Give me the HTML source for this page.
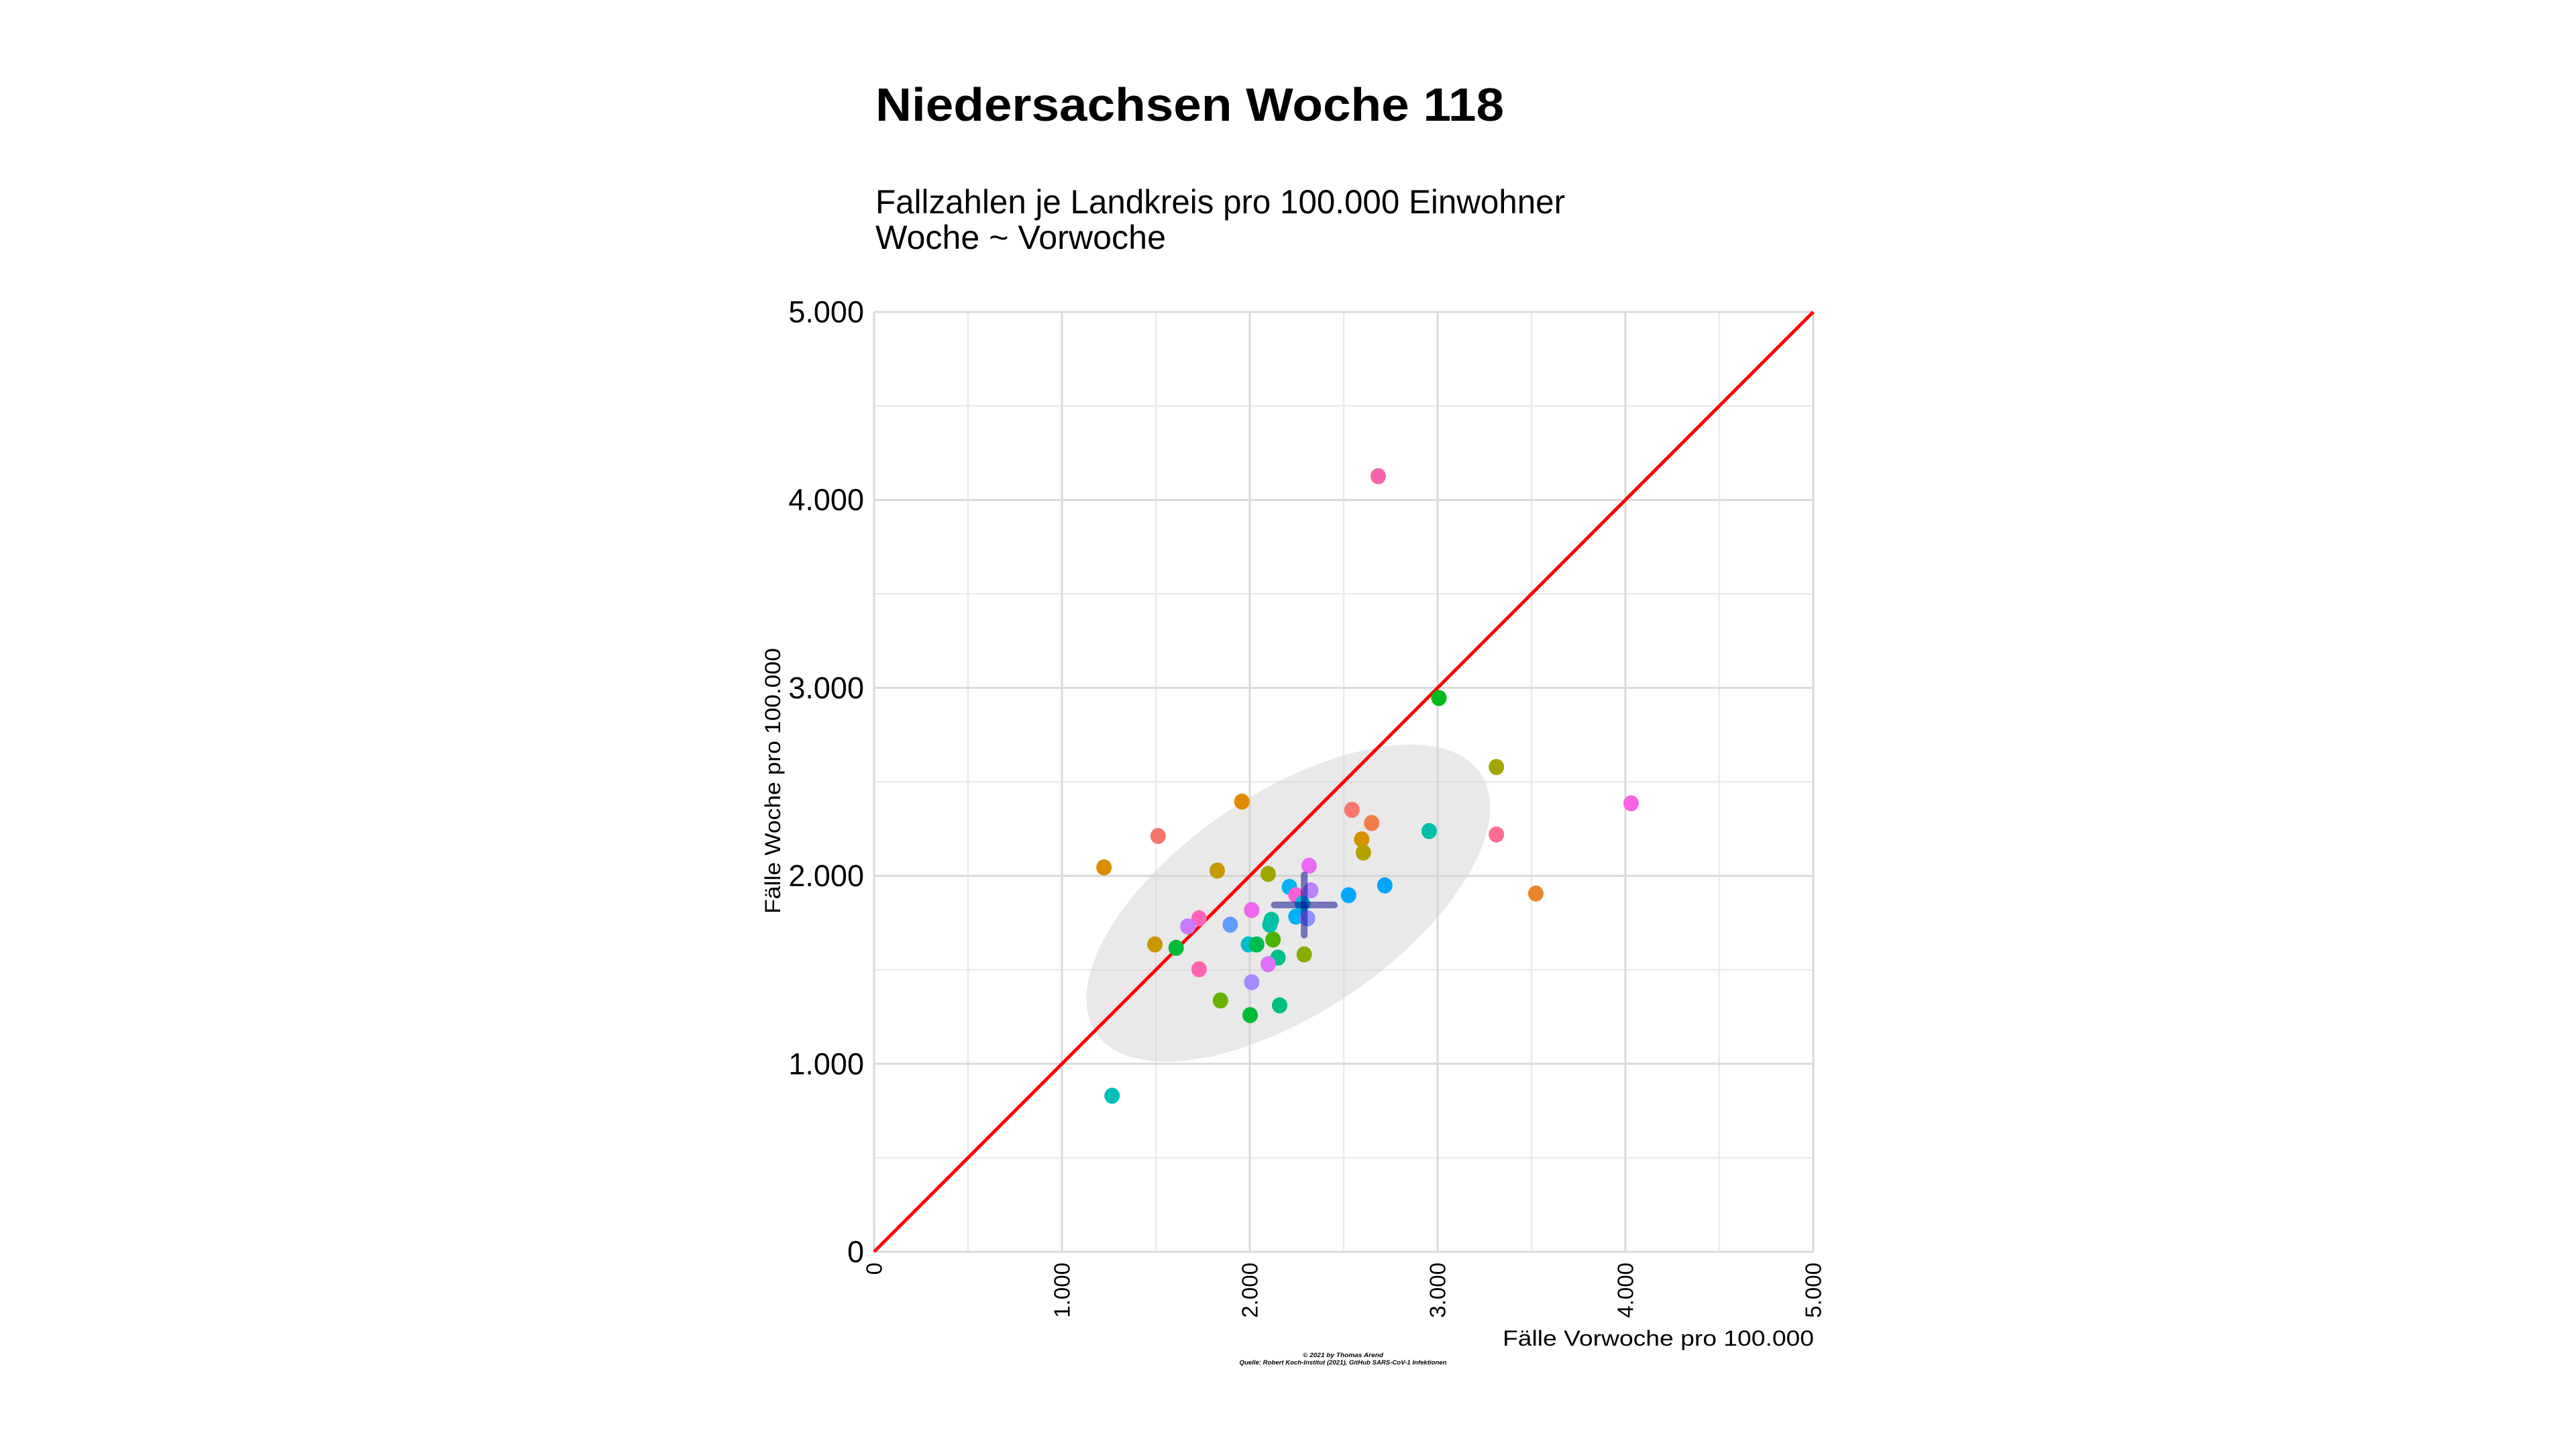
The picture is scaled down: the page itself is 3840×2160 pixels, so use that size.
<!DOCTYPE html>
<html><head><meta charset="utf-8"><style>
html,body{margin:0;padding:0;background:#fff;}
svg{display:block;font-family:"Liberation Sans",sans-serif;}
</style></head><body>
<svg id="chart" width="3840" height="2160" viewBox="0 0 3840 2160" xmlns="http://www.w3.org/2000/svg">
<text x="1305" y="180" font-size="70" font-weight="bold" textLength="937" lengthAdjust="spacingAndGlyphs">Niedersachsen Woche 118</text>
<text x="1305" y="318" font-size="50" textLength="1028" lengthAdjust="spacingAndGlyphs">Fallzahlen je Landkreis pro 100.000 Einwohner</text>
<text x="1305" y="371" font-size="50" textLength="433" lengthAdjust="spacingAndGlyphs">Woche ~ Vorwoche</text>
<g id="grid"></g>
<g id="ell"></g>
<g id="diag"></g>
<g id="pts"></g>
<g id="mean"></g>
<g id="axes"></g>
<text x="1152" y="1164" font-size="32" text-anchor="middle" transform="rotate(-90 1152 1164)" dominant-baseline="central" textLength="396" lengthAdjust="spacingAndGlyphs">Fälle Woche pro 100.000</text>
<text x="2704" y="2006" font-size="32" text-anchor="end" textLength="464" lengthAdjust="spacingAndGlyphs">Fälle Vorwoche pro 100.000</text>
<text x="2002" y="2023" font-size="9" font-style="italic" font-weight="bold" text-anchor="middle" textLength="120" lengthAdjust="spacingAndGlyphs">© 2021 by Thomas Arend</text>
<text x="2002" y="2034" font-size="9" font-style="italic" font-weight="bold" text-anchor="middle" textLength="309" lengthAdjust="spacingAndGlyphs">Quelle: Robert Koch-Institut (2021), GitHub SARS-CoV-1 Infektionen</text>
</svg>
<script>
const xVals=[2684,3007,3313,4030,3523,3313,2955,2544,2649,2596,2605,2719,2526,2316,2325,2211,2246,2281,2246,2308,1958,1512,1827,2098,2010,1896,1730,1670,2115,2107,2124,1993,2037,1495,1608,2150,2290,2098,1730,2010,1844,2159,2002,1267,1224];
const yVals=[4126,2946,2579,2386,1906,2220,2238,2351,2281,2194,2124,1949,1897,2054,1923,1941,1897,1853,1783,1774,2395,2212,2028,2010,1818,1740,1774,1731,1766,1740,1661,1635,1635,1635,1617,1565,1582,1530,1503,1434,1337,1311,1259,830,2045];
const colors=["#f564a9","#00b81f","#a3a500","#f763e0","#e9842c","#ff6c91","#00bfa9","#f8766d","#ef7f49","#d59100","#b4a000","#00a5ff","#00a9ff","#e76bf3","#b983ff","#00b4ef","#fd61d1","#00bcd8","#00b0f6","#8f91ff","#e18a00","#f8766d","#c49a00","#9da700","#ed68ed","#619cff","#ff62bc","#c77cff","#00bf9a","#00c1aa","#4cb400","#00bdd0","#00bb4e","#c99800","#00ba38","#00c08b","#86ac00","#dc71fa","#ff65ae","#a58aff","#6bb100","#00be7e","#00ba38","#00c0b8","#db8e00"];
const ticks=[0,1000,2000,3000,4000,5000];
const tickLabels=["0","1.000","2.000","3.000","4.000","5.000"];
const minorTicks=[500,1500,2500,3500,4500];
const meanX=2290, meanY=1845, meanSdX=160, meanSdY=160;
const ellCx=2205, ellCy=1855, ellA=1235, ellB=585, ellAngle=34;
const X0=1303,X1=2703,Y0=1866,Y1=465;
const sx=v=>X0+(X1-X0)*v/5000, sy=v=>Y0-(Y0-Y1)*v/5000;
const NS="http://www.w3.org/2000/svg";
function mk(t,a,p){const e=document.createElementNS(NS,t);for(const k in a)e.setAttribute(k,a[k]);p.appendChild(e);return e;}
const grid=document.getElementById('grid');
minorTicks.forEach(v=>{
 const a=mk('line',{x1:sx(v),x2:sx(v),y1:Y1,y2:Y0,stroke:'#ebebeb','stroke-width':2.5},grid);
 
 
 const b=mk('line',{x1:X0,x2:X1,y1:sy(v),y2:sy(v),stroke:'#ebebeb','stroke-width':2.5},grid);
 
 
});
ticks.forEach(v=>{
 const a=mk('line',{x1:sx(v),x2:sx(v),y1:Y1,y2:Y0,stroke:'#d9d9d9','stroke-width':3},grid);
 
 
 const b=mk('line',{x1:X0,x2:X1,y1:sy(v),y2:sy(v),stroke:'#d9d9d9','stroke-width':3},grid);
 
 
});
const ell=mk('ellipse',{cx:sx(ellCx),cy:sy(ellCy),rx:(X1-X0)*ellA/5000,ry:(X1-X0)*ellB/5000,fill:'#cfcfcf','fill-opacity':0.45,transform:`rotate(${-ellAngle} ${sx(ellCx)} ${sy(ellCy)})`},document.getElementById('ell'));


const d=mk('line',{x1:sx(0),y1:sy(0),x2:sx(5000),y2:sy(5000),stroke:'#ff0000','stroke-width':5},document.getElementById('diag'));


const pts=document.getElementById('pts');
xVals.forEach((x,i)=>{
 const c=mk('ellipse',{cx:sx(x),cy:sy(yVals[i]),rx:11.5,ry:12,fill:colors[i%colors.length]},pts);
 
 
});
const mg=document.getElementById('mean');
const h=mk('line',{x1:sx(meanX-meanSdX),x2:sx(meanX+meanSdX),y1:sy(meanY),y2:sy(meanY),stroke:'#00008b','stroke-opacity':0.5,'stroke-width':10,'stroke-linecap':'round'},mg);


const vv=mk('line',{x1:sx(meanX),x2:sx(meanX),y1:sy(meanY-meanSdY),y2:sy(meanY+meanSdY),stroke:'#00008b','stroke-opacity':0.5,'stroke-width':10,'stroke-linecap':'round'},mg);


const ax=document.getElementById('axes');
ticks.forEach((v,i)=>{
 const t=mk('text',{x:1288,y:sy(v),'font-size':45,'text-anchor':'end','dominant-baseline':'central'},ax);
 t.textContent=tickLabels[i];
 
 
 const u=mk('text',{x:sx(v),y:1882,'font-size':33,'text-anchor':'end','dominant-baseline':'central',transform:`rotate(-90 ${sx(v)} 1882)`},ax);
 u.textContent=tickLabels[i];
 
 
});
</script>
</body></html>
